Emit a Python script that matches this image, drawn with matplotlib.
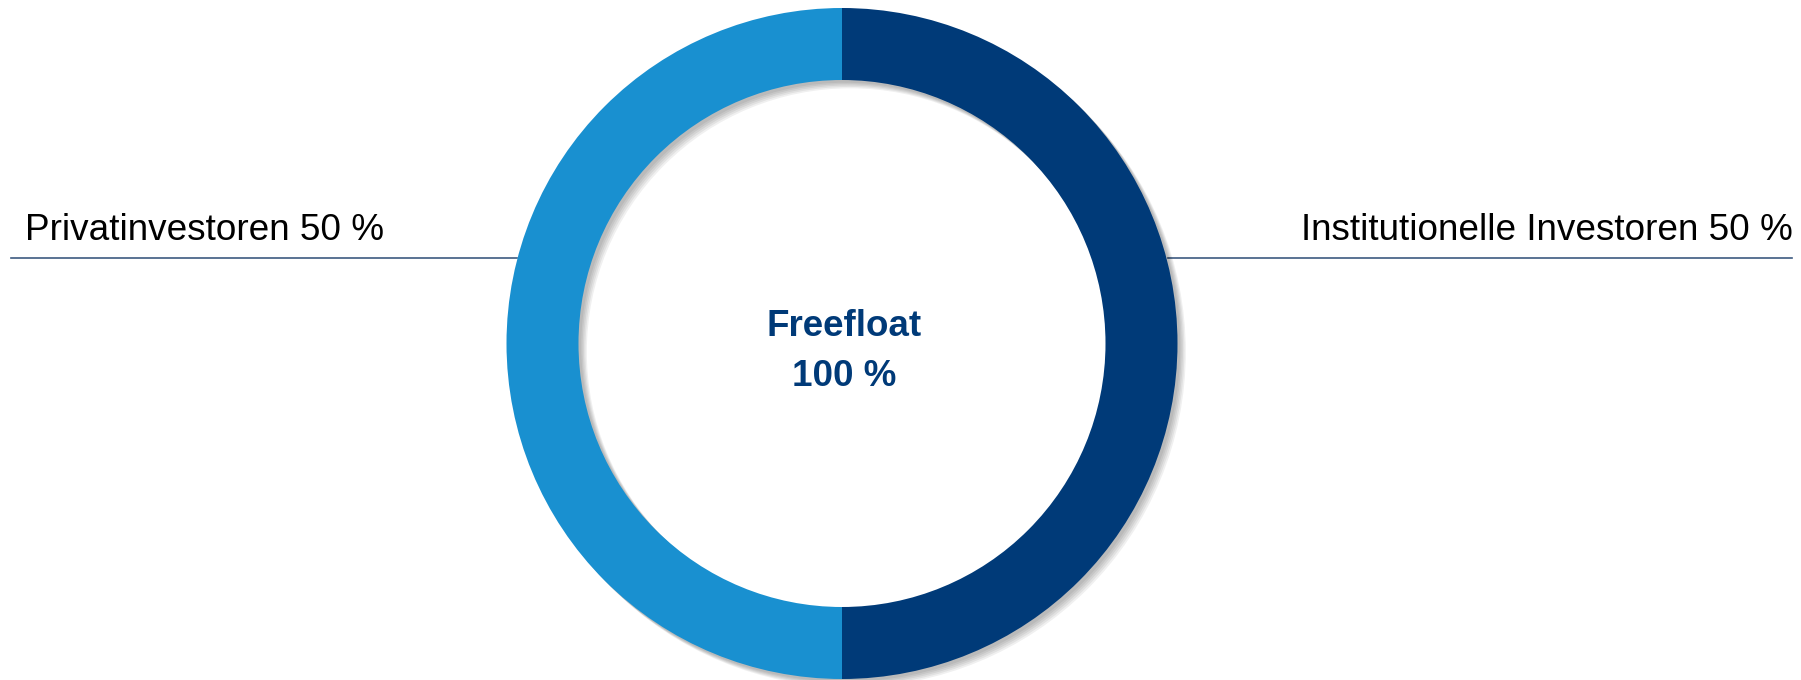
import matplotlib.pyplot as plt
import matplotlib.patheffects as pe

plt.rcParams["font.family"] = ["Liberation Sans", "DejaVu Sans"]

# Shareholder structure (free float split)
labels = ["Privatinvestoren", "Institutionelle Investoren"]
shares = [50, 50]
colors = ["#1990D0", "#003A78"]
center_title = "Freefloat"
center_value = "100 %"

W, H = 1801, 680
fig = plt.figure(figsize=(W / 100, H / 100), dpi=100)
ax = fig.add_axes([0, 0, 1, 1])

cx, cy = 842, H - 343.5
r_out, ring = 335.5, 72

shadow = [pe.SimplePatchShadow(offset=(d, -d), shadow_rgbFace="#000000", alpha=0.06)
          for d in (2, 3, 4, 5, 6)] + [pe.Normal()]

wedges, _ = ax.pie(shares, colors=colors, startangle=90, counterclock=True,
                   radius=r_out, center=(cx, cy),
                   wedgeprops=dict(width=ring, linewidth=0))
for w in wedges:
    w.set_path_effects(shadow)

# leader lines and labels
line_y = H - 257.5
ax.plot([11, 517], [line_y, line_y], color="#3D5A80", lw=1.2, zorder=0)
ax.plot([1168, 1792], [line_y, line_y], color="#3D5A80", lw=1.2, zorder=0)
ax.text(25, H - 230.5, f"{labels[0]} {shares[0]} %", fontsize=26.6,
        ha="left", va="center", color="#000000")
ax.text(1793, H - 230.5, f"{labels[1]} {shares[1]} %", fontsize=26.6,
        ha="right", va="center", color="#000000")

ax.text(cx + 2, H - 327, center_title, fontsize=26.5, fontweight="bold",
        ha="center", va="center", color="#003A78")
ax.text(cx + 2, H - 376, center_value, fontsize=26.5, fontweight="bold",
        ha="center", va="center", color="#003A78")

ax.set_xlim(0, W)
ax.set_ylim(0, H)
ax.set_aspect("equal")
ax.axis("off")

fig.savefig("out.png", dpi=100)
